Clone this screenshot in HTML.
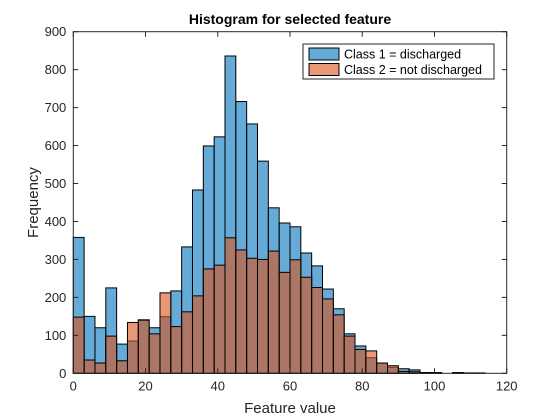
<!DOCTYPE html>
<html><head><meta charset="utf-8"><style>
html,body{margin:0;padding:0;background:#fff;}
svg{display:block;font-family:"Liberation Sans",sans-serif;}
</style></head><body>
<svg id="chart" width="560" height="420" viewBox="0 0 560 420"></svg>
<script>
const binStart = 0;
const binWidth = 3;
const class1Counts = [358,150,120,225,77,85,141,120,149,217,333,483,599,623,836,716,657,559,436,396,386,317,283,222,170,104,72,41,27,16,12,9,2,2,0,2,1,1];
const class2Counts = [148,35,27,98,33,134,140,104,212,123,162,204,275,285,357,325,303,300,322,266,299,253,226,196,154,98,63,59,27,20,5,4,2,1,0,1,0,0];
const xTicks = [0,20,40,60,80,100,120];
const yTicks = [0,100,200,300,400,500,600,700,800,900];
const seriesNames = ["Class 1 = discharged","Class 2 = not discharged"];

const NS = "http://www.w3.org/2000/svg";
const svg = document.getElementById("chart");
const L=73.3, R=506.7, T=31.7, B=373.3;
const xMin=0,xMax=120,yMin=0,yMax=900;
const sx = v => L + (v-xMin)/(xMax-xMin)*(R-L);
const sy = v => B - (v-yMin)/(yMax-yMin)*(B-T);
function mk(tag, attrs){const e=document.createElementNS(NS,tag);for(const k in attrs)e.setAttribute(k,attrs[k]);svg.appendChild(e);return e;}

function drawSeries(counts, color, name){
  counts.forEach((c,i)=>{
    const x0=sx(binStart+i*binWidth), x1=sx(binStart+(i+1)*binWidth);
    const r=mk("rect",{x:x0,y:sy(c),width:x1-x0,height:sy(0)-sy(c),fill:color,"fill-opacity":0.6,stroke:"#000","stroke-width":1});
    
    
  });
}
drawSeries(class1Counts,"rgb(0,114,189)","class1");
drawSeries(class2Counts,"rgb(217,83,25)","class2");

// axes box
const box=mk("rect",{x:L,y:T,width:R-L,height:B-T,fill:"none",stroke:"#262626","stroke-width":1});



xTicks.forEach(t=>{
  const x=sx(t);
  mk("line",{x1:x,y1:B,x2:x,y2:B-5,stroke:"#262626"});
  mk("line",{x1:x,y1:T,x2:x,y2:T+5,stroke:"#262626"});
  const tx=mk("text",{x:x,y:B+17,"text-anchor":"middle","font-size":13,fill:"#262626"});
  tx.textContent=t;
  
  
});
yTicks.forEach(t=>{
  const y=sy(t);
  mk("line",{x1:L,y1:y,x2:L+5,y2:y,stroke:"#262626"});
  mk("line",{x1:R,y1:y,x2:R-5,y2:y,stroke:"#262626"});
  const ty=mk("text",{x:L-7,y:y+4.5,"text-anchor":"end","font-size":13,fill:"#262626"});
  ty.textContent=t;
  
  
});

const title=mk("text",{x:(L+R)/2,y:24,"text-anchor":"middle","font-size":14,"font-weight":"bold",fill:"#000"});
title.textContent="Histogram for selected feature";


const xl=mk("text",{x:(L+R)/2,y:413,"text-anchor":"middle","font-size":15,fill:"#262626"});
xl.textContent="Feature value";


const yl=mk("text",{x:0,y:0,"text-anchor":"middle","font-size":15,fill:"#262626",transform:"translate(38,"+((T+B)/2)+") rotate(-90)"});
yl.textContent="Frequency";



// legend
const lg=mk("rect",{x:303,y:44,width:191,height:35,fill:"#fff",stroke:"#262626","stroke-width":1});


const lcols=["rgb(0,114,189)","rgb(217,83,25)"];
seriesNames.forEach((n,i)=>{
  const y=47+i*15.5;
  const sw=mk("rect",{x:309,y:y+1,width:30,height:12,fill:lcols[i],"fill-opacity":0.6,stroke:"#000"});
  
  
  const t=mk("text",{x:344,y:y+11.5,"font-size":12.5,fill:"#000"});
  t.textContent=n;
  
  
});
</script>
</body></html>
